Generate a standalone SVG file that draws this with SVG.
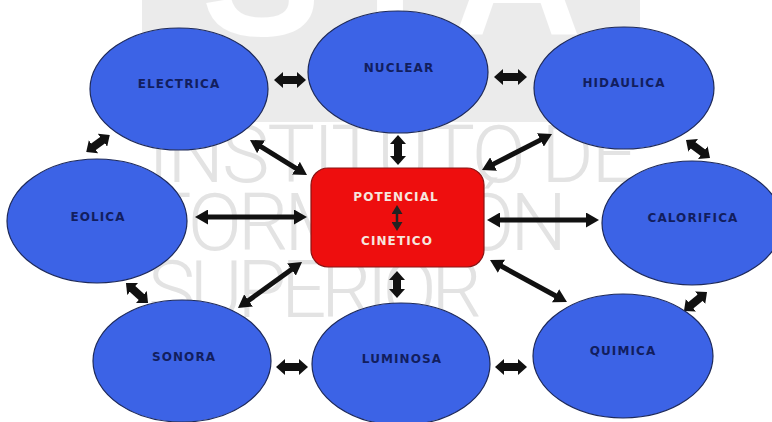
<svg xmlns="http://www.w3.org/2000/svg" width="772" height="422" viewBox="0 0 772 422">
  <defs>
    <style>
      .node { fill: #3c63e6; stroke: #1e2a5a; stroke-width: 1.2; }
      .core { fill: #ee0e0e; stroke: #8a1414; stroke-width: 1.2; }
      .lbl { font-family: "DejaVu Sans", Verdana, sans-serif; font-weight: bold; font-size: 12px; letter-spacing: 1.1px; text-anchor: middle; fill: #121e5e; }
      .lblc { font-family: "DejaVu Sans", Verdana, sans-serif; font-weight: bold; font-size: 12px; letter-spacing: 1.1px; text-anchor: middle; fill: #f6e6de; }
      .long { stroke: #111; stroke-width: 5; fill: none; marker-start: url(#hl); marker-end: url(#hl); }
      .fat { stroke: #111; stroke-width: 8; fill: none; marker-start: url(#hf); marker-end: url(#hf); }
      .tiny { stroke: #222; stroke-width: 2.5; fill: none; marker-start: url(#ht); marker-end: url(#ht); }
      .wm { font-family: Roboto, "Open Sans", sans-serif; font-weight: 300; font-size: 80px; fill: #e3e3e3; }
    </style>
    <marker id="hl" markerUnits="userSpaceOnUse" markerWidth="13" markerHeight="15" viewBox="0 0 13 15" refX="3" refY="7.5" orient="auto-start-reverse">
      <path d="M0,0 L13,7.5 L0,15 z" fill="#111"/>
    </marker>
    <marker id="hf" markerUnits="userSpaceOnUse" markerWidth="9" markerHeight="16" viewBox="0 0 9 16" refX="3" refY="8" orient="auto-start-reverse">
      <path d="M0,0 L9,8 L0,16 z" fill="#111"/>
    </marker>
    <marker id="ht" markerUnits="userSpaceOnUse" markerWidth="9" markerHeight="11" viewBox="0 0 9 11" refX="2" refY="5.5" orient="auto-start-reverse">
      <path d="M0,0 L9,5.5 L0,11 z" fill="#222"/>
    </marker>
    <mask id="sia">
      <rect x="0" y="0" width="772" height="422" fill="#fff"/>
      <g font-family="'Liberation Sans', Arial, sans-serif" font-weight="bold" font-size="180" fill="#000">
        <text x="201" y="35">S</text>
        <text x="365" y="35">I</text>
        <text x="452" y="35">A</text>
      </g>
    </mask>
  </defs>

  <rect x="0" y="0" width="772" height="422" fill="#ffffff"/>

  <g id="watermark">
    <rect x="142" y="0" width="498" height="122" fill="#ebebeb" mask="url(#sia)"/>
    <text class="wm" x="148" y="182" textLength="489" lengthAdjust="spacing">INSTITUTO DE</text>
    <text class="wm" x="147" y="250" textLength="420" lengthAdjust="spacing">FORMACIÓN</text>
    <text class="wm" x="148" y="317" textLength="334" lengthAdjust="spacing">SUPERIOR</text>
  </g>

  <g id="connectors">
    <line class="long" x1="258.5" y1="145.2" x2="298.5" y2="169.8"/>
    <line class="long" x1="543.1" y1="138.6" x2="490.9" y2="165.4"/>
    <line class="long" x1="205" y1="217" x2="297" y2="217"/>
    <line class="long" x1="497" y1="220" x2="589" y2="220"/>
    <line class="long" x1="246.1" y1="302.2" x2="293.9" y2="267.8"/>
    <line class="long" x1="498.8" y1="264.8" x2="558.2" y2="297.2"/>
    <line class="fat" x1="280" y1="80" x2="300" y2="80"/>
    <line class="fat" x1="500" y1="77" x2="521" y2="77"/>
    <line class="fat" x1="282" y1="367" x2="302" y2="367"/>
    <line class="fat" x1="501" y1="367" x2="521" y2="367"/>
    <line class="fat" x1="398" y1="141" x2="398" y2="159"/>
    <line class="fat" x1="397" y1="277" x2="397" y2="292"/>
    <line class="fat" x1="104.9" y1="138.5" x2="91.1" y2="148.5"/>
    <line class="fat" x1="130.4" y1="287" x2="143.6" y2="299"/>
    <line class="fat" x1="690.8" y1="143.6" x2="705.2" y2="154.4"/>
    <line class="fat" x1="702.4" y1="295.8" x2="688.6" y2="307.2"/>
  </g>

  <g id="electrica"><ellipse class="node" cx="179" cy="89" rx="89" ry="61"/><text class="lbl" x="179" y="87.5">ELECTRICA</text></g>
  <g id="nuclear"><ellipse class="node" cx="398" cy="72" rx="90" ry="61"/><text class="lbl" x="399" y="71.5">NUCLEAR</text></g>
  <g id="hidaulica"><ellipse class="node" cx="624" cy="88" rx="90" ry="61"/><text class="lbl" x="624" y="86.5">HIDAULICA</text></g>
  <g id="eolica"><ellipse class="node" cx="97" cy="221" rx="90" ry="62"/><text class="lbl" x="98" y="220.5">EOLICA</text></g>
  <g id="calorifica"><ellipse class="node" cx="692" cy="223" rx="90" ry="62"/><text class="lbl" x="693" y="221.5">CALORIFICA</text></g>
  <g id="sonora"><ellipse class="node" cx="182" cy="361" rx="89" ry="61"/><text class="lbl" x="184" y="360.5">SONORA</text></g>
  <g id="luminosa"><ellipse class="node" cx="401" cy="364" rx="89" ry="61"/><text class="lbl" x="402" y="362.5">LUMINOSA</text></g>
  <g id="quimica"><ellipse class="node" cx="623" cy="356" rx="90" ry="62"/><text class="lbl" x="623" y="354.5">QUIMICA</text></g>

  <g id="potencial-cinetico">
    <rect class="core" x="311" y="168" width="173" height="99" rx="17" ry="17"/>
    <text class="lblc" x="396" y="200.5">POTENCIAL</text>
    <line class="tiny" x1="397" y1="212" x2="397" y2="224"/>
    <text class="lblc" x="397" y="244.5">CINETICO</text>
  </g>
</svg>
